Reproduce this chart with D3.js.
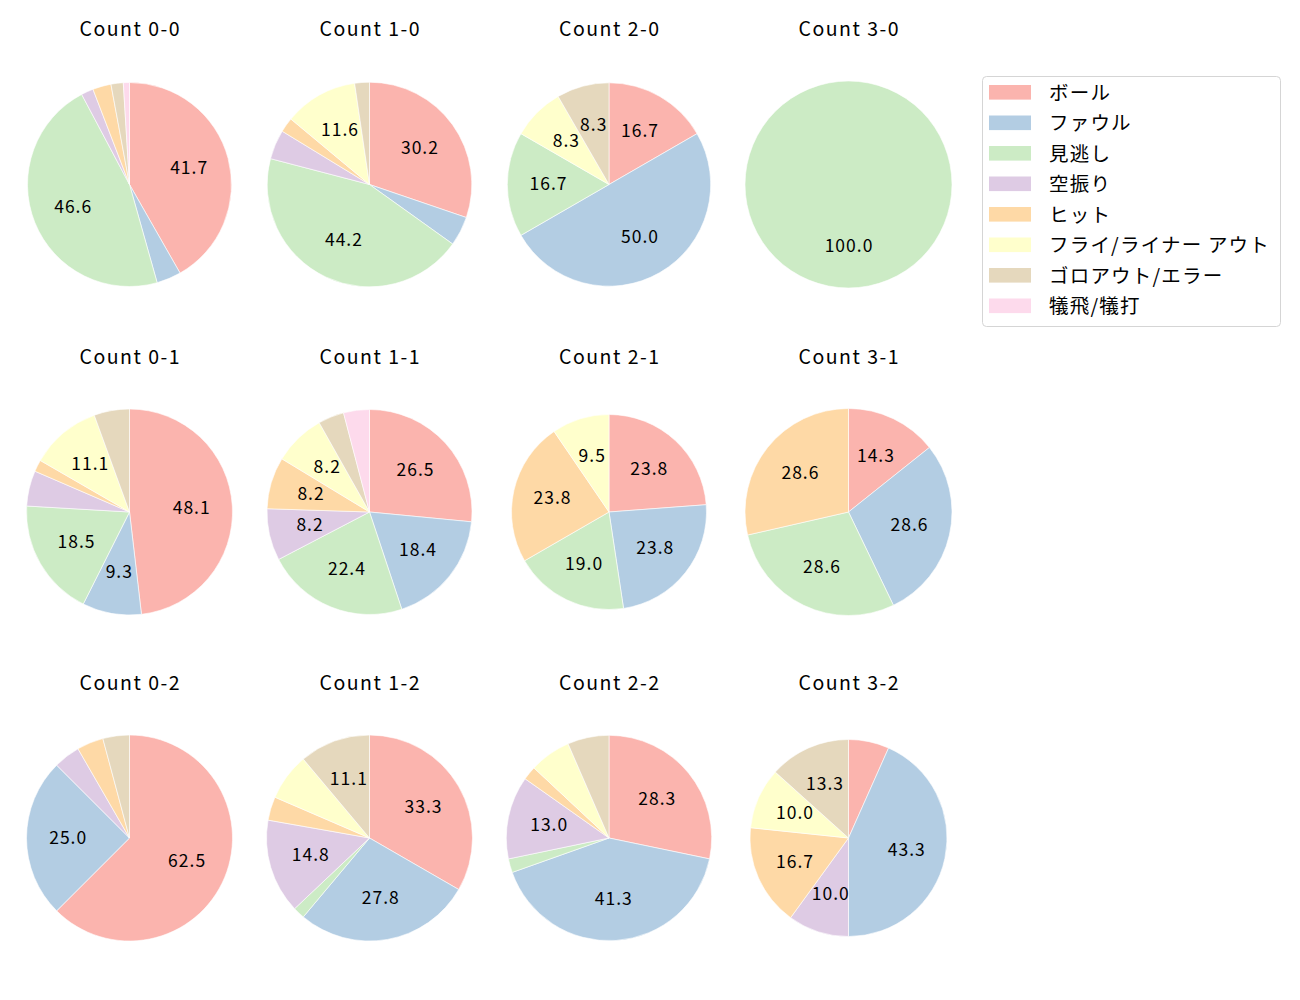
<!DOCTYPE html>
<html>
<head>
<meta charset="utf-8">
<script src="https://cdn.jsdelivr.net/npm/d3@7"></script>
<style>
  html, body { margin: 0; padding: 0; background: #fff; }
  svg { display: block; font-family: "Noto Sans CJK JP", "Noto Sans", sans-serif; }
</style>
</head>
<body>
<svg id="chart" width="1300" height="1000"></svg>
<script>
// ---------------- data ----------------
const categories = ["ボール", "ファウル", "見逃し", "空振り", "ヒット", "フライ/ライナー アウト", "ゴロアウト/エラー", "犠飛/犠打"];
const colors = ["#fbb4ae", "#b3cde3", "#ccebc5", "#decbe4", "#fed9a6", "#ffffcc", "#e5d8bd", "#fddaec"];

const countTitles = ["Count 0-0", "Count 1-0", "Count 2-0", "Count 3-0",
                     "Count 0-1", "Count 1-1", "Count 2-1", "Count 3-1",
                     "Count 0-2", "Count 1-2", "Count 2-2", "Count 3-2"];

const count00 = [43, 4, 48, 2, 3, 0, 2, 1];
const count10 = [13, 2, 19, 2, 1, 5, 1, 0];
const count20 = [2, 6, 2, 0, 0, 1, 1, 0];
const count30 = [0, 0, 1, 0, 0, 0, 0, 0];
const count01 = [26, 5, 10, 3, 1, 6, 3, 0];
const count11 = [13, 9, 11, 4, 4, 4, 2, 2];
const count21 = [5, 5, 4, 0, 5, 2, 0, 0];
const count31 = [1, 2, 2, 0, 2, 0, 0, 0];
const count02 = [15, 6, 0, 1, 1, 0, 1, 0];
const count12 = [18, 15, 1, 8, 2, 4, 6, 0];
const count22 = [13, 19, 1, 6, 1, 3, 3, 0];
const count32 = [2, 13, 0, 3, 5, 3, 4, 0];

const allCounts = [count00, count10, count20, count30,
                   count01, count11, count21, count31,
                   count02, count12, count22, count32];

// ---------------- layout ----------------
const colX = [129.5, 369.5, 609, 848.5];
const rowY = [184.5, 512, 838];
const titleOffset = -157;
const radii = [102, 102.3, 101.7, 103.5,
               103, 102.5, 97.5, 103.5,
               103, 103, 102.7, 98.5];
const labelThreshold = 8;
const labelSpacing = 1.0, titleSpacing = 1.5, legendSpacing = 1.2;

const svg = d3.select("#chart");
const color = d3.scaleOrdinal().domain(categories).range(colors);
const pie = d3.pie().sort(null).value(d => d.v).startAngle(0).endAngle(2 * Math.PI);

allCounts.forEach((vals, i) => {
  const cx = colX[i % 4], cy = rowY[Math.floor(i / 4)];
  const r = radii[i];
  const total = d3.sum(vals);
  const data = categories.map((c, k) => ({ c, v: vals[k] }));
  const arcs = pie(data);
  const arc = d3.arc().innerRadius(0).outerRadius(r);
  const labelArc = d3.arc().innerRadius(r * 0.6).outerRadius(r * 0.6);

  const g = svg.append("g").attr("transform", `translate(${cx},${cy})`);
  g.selectAll("path").data(arcs.filter(d => d.data.v > 0)).join("path")
    .attr("d", arc)
    .attr("fill", d => color(d.data.c))
    .attr("stroke", "#ffffff")
    .attr("stroke-width", 0.6)
    .attr("stroke-linejoin", "round");

  g.selectAll("text.lbl").data(arcs.filter(d => d.data.v / total * 100 >= labelThreshold)).join("text")
    .attr("class", "lbl")
    .attr("transform", d => `translate(${labelArc.centroid(d)})`)
    .attr("text-anchor", "middle")
    .attr("dominant-baseline", "central")
    .attr("dx", labelSpacing / 2)
    .attr("dy", -2)
    .attr("letter-spacing", labelSpacing)
    .attr("font-size", 17.5)
    .attr("fill", "#000")
    .text(d => (d.data.v / total * 100).toFixed(1));

  svg.append("text")
    .attr("x", cx + titleSpacing / 2).attr("y", cy + titleOffset)
    .attr("text-anchor", "middle")
    .attr("dominant-baseline", "central")
    .attr("letter-spacing", titleSpacing)
    .attr("font-size", 19.5)
    .attr("fill", "#000")
    .text(countTitles[i]);
});

// ---------------- legend ----------------
const lg = svg.append("g");
lg.append("rect")
  .attr("x", 982.5).attr("y", 76.5).attr("width", 298).attr("height", 250)
  .attr("rx", 4).attr("fill", "#fff").attr("stroke", "#d5d5d5").attr("stroke-width", 1);
const rowsG = lg.selectAll("g.item").data(categories).join("g")
  .attr("class", "item")
  .attr("transform", (d, k) => `translate(989, ${92.3 + k * 30.5})`);
rowsG.append("rect")
  .attr("x", 0).attr("y", -7.3).attr("width", 42).attr("height", 14.6)
  .attr("fill", d => color(d));
rowsG.append("text")
  .attr("x", 60).attr("y", -1)
  .attr("dominant-baseline", "central")
  .attr("letter-spacing", legendSpacing)
  .attr("font-size", 19.5)
  .attr("fill", "#000")
  .text(d => d);
</script>
</body>
</html>
